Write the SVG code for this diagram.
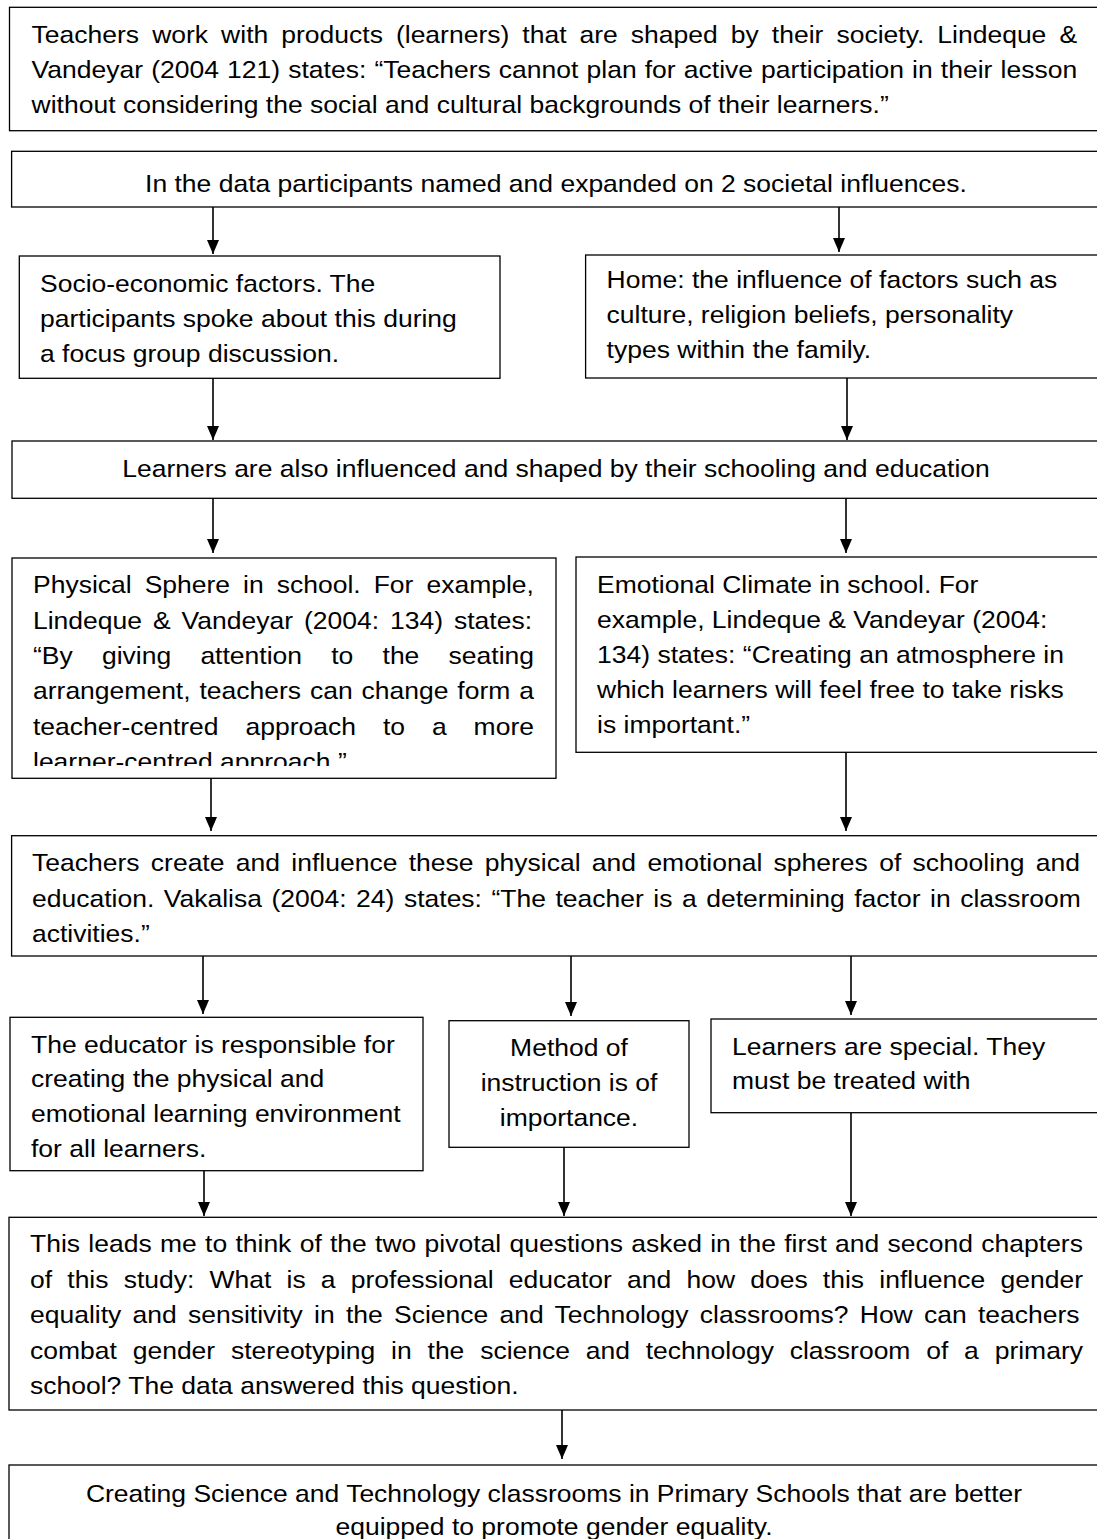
<svg xmlns="http://www.w3.org/2000/svg" width="1097" height="1539" viewBox="0 0 1097 1539">
<style>
.box{fill:#fff;stroke:#000;stroke-width:1.3}
.t{font-family:"Liberation Sans",Arial,sans-serif;font-size:24.4px;fill:#000}
.c{text-anchor:middle}
.conn line{stroke:#000;stroke-width:1.6;marker-end:url(#ah)}
</style>
<defs>
<marker id="ah" markerUnits="userSpaceOnUse" markerWidth="14" markerHeight="12" refX="14" refY="6" orient="auto">
<path d="M0,0 L14,6 L0,12 z" fill="#000"/>
</marker>
<clipPath id="physClip"><rect x="12" y="558" width="544" height="208"/></clipPath>
</defs>
<rect width="1097" height="1539" fill="#fff"/>

<g id="connectors" class="conn">
<line x1="213" y1="207" x2="213" y2="254"/>
<line x1="839" y1="207" x2="839" y2="252"/>
<line x1="213" y1="378" x2="213" y2="440"/>
<line x1="847" y1="378" x2="847" y2="440"/>
<line x1="213" y1="498" x2="213" y2="553"/>
<line x1="846" y1="498" x2="846" y2="553"/>
<line x1="211" y1="778" x2="211" y2="831"/>
<line x1="846" y1="752" x2="846" y2="831"/>
<line x1="203" y1="956" x2="203" y2="1014"/>
<line x1="571" y1="956" x2="571" y2="1016"/>
<line x1="851" y1="956" x2="851" y2="1015"/>
<line x1="204" y1="1171" x2="204" y2="1216"/>
<line x1="564" y1="1147" x2="564" y2="1216"/>
<line x1="851" y1="1113" x2="851" y2="1216"/>
<line x1="562" y1="1410" x2="562" y2="1459"/>
</g>

<g id="n1">
<rect class="box" x="9.5" y="7.3" width="1100.5" height="123.4"/>
<g transform="translate(31.6 0) scale(1.086 1)" class="t">
<text x="0" y="42.7" style="word-spacing:5.22px">Teachers work with products (learners) that are shaped by their society. Lindeque &amp;</text>
<text x="0" y="78.3" style="word-spacing:0.70px">Vandeyar (2004 121) states: “Teachers cannot plan for active participation in their lesson</text>
<text x="0" y="113.3">without considering the social and cultural backgrounds of their learners.”</text>
</g>
</g>

<g id="n2">
<rect class="box" x="11.6" y="151.3" width="1098" height="55.7"/>
<g transform="translate(556 0) scale(1.086 1)" class="t c">
<text x="0" y="192.3">In the data participants named and expanded on 2 societal influences.</text>
</g>
</g>

<g id="n3">
<rect class="box" x="19.3" y="256" width="480.7" height="122.3"/>
<g transform="translate(40 0) scale(1.086 1)" class="t">
<text x="0" y="292.5">Socio-economic factors. The</text>
<text x="0" y="327.5">participants spoke about this during</text>
<text x="0" y="362.5">a focus group discussion.</text>
</g>
</g>

<g id="n4">
<rect class="box" x="585.6" y="255" width="524.4" height="123"/>
<g transform="translate(606.6 0) scale(1.086 1)" class="t">
<text x="0" y="288.5">Home: the influence of factors such as</text>
<text x="0" y="323.5">culture, religion beliefs, personality</text>
<text x="0" y="358.5">types within the family.</text>
</g>
</g>

<g id="n5">
<rect class="box" x="12" y="441" width="1098" height="57.3"/>
<g transform="translate(556 0) scale(1.086 1)" class="t c">
<text x="0" y="477.3">Learners are also influenced and shaped by their schooling and education</text>
</g>
</g>

<g id="n6">
<rect class="box" x="12" y="558" width="544" height="220.3"/>
<g clip-path="url(#physClip)">
<g transform="translate(33 0) scale(1.086 1)" class="t">
<text x="0" y="593.3" style="word-spacing:5.19px">Physical Sphere in school. For example,</text>
<text x="0" y="628.7" style="word-spacing:3.28px">Lindeque &amp; Vandeyar (2004: 134) states:</text>
<text x="0" y="664" style="word-spacing:20.11px">“By giving attention to the seating</text>
<text x="0" y="699.3" style="word-spacing:1.38px">arrangement, teachers can change form a</text>
<text x="0" y="734.7" style="word-spacing:18.02px">teacher-centred approach to a more</text>
<text x="0" y="770">learner-centred approach.”</text>
</g>
</g>
</g>

<g id="n7">
<rect class="box" x="576" y="557" width="534" height="195.3"/>
<g transform="translate(597 0) scale(1.086 1)" class="t">
<text x="0" y="593">Emotional Climate in school. For</text>
<text x="0" y="628">example, Lindeque &amp; Vandeyar (2004:</text>
<text x="0" y="663">134) states: “Creating an atmosphere in</text>
<text x="0" y="698">which learners will feel free to take risks</text>
<text x="0" y="733">is important.”</text>
</g>
</g>

<g id="n8">
<rect class="box" x="11.6" y="835.7" width="1098.4" height="120.3"/>
<g transform="translate(32 0) scale(1.086 1)" class="t">
<text x="0" y="871.5" style="word-spacing:3.64px">Teachers create and influence these physical and emotional spheres of schooling and</text>
<text x="0" y="906.7" style="word-spacing:1.98px">education. Vakalisa (2004: 24) states: “The teacher is a determining factor in classroom</text>
<text x="0" y="941.8">activities.”</text>
</g>
</g>

<g id="n9">
<rect class="box" x="10" y="1017.3" width="413" height="153.4"/>
<g transform="translate(31 0) scale(1.086 1)" class="t">
<text x="0" y="1052.7">The educator is responsible for</text>
<text x="0" y="1087.3">creating the physical and</text>
<text x="0" y="1121.7">emotional learning environment</text>
<text x="0" y="1156.7">for all learners.</text>
</g>
</g>

<g id="n10">
<rect class="box" x="449" y="1020.7" width="240" height="126.6"/>
<g transform="translate(569 0) scale(1.086 1)" class="t c">
<text x="0" y="1056">Method of</text>
<text x="0" y="1091">instruction is of</text>
<text x="0" y="1126">importance.</text>
</g>
</g>

<g id="n11">
<rect class="box" x="711" y="1019" width="399" height="93.7"/>
<g transform="translate(732 0) scale(1.086 1)" class="t">
<text x="0" y="1055">Learners are special. They</text>
<text x="0" y="1089.3">must be treated with</text>
</g>
</g>

<g id="n12">
<rect class="box" x="9" y="1217.3" width="1101" height="192.7"/>
<g transform="translate(30 0) scale(1.086 1)" class="t">
<text x="0" y="1251.7" style="word-spacing:0.84px">This leads me to think of the two pivotal questions asked in the first and second chapters</text>
<text x="0" y="1287.7" style="word-spacing:7.19px">of this study: What is a professional educator and how does this influence gender</text>
<text x="0" y="1323.3" style="word-spacing:3.57px">equality and sensitivity in the Science and Technology classrooms? How can teachers</text>
<text x="0" y="1359" style="word-spacing:7.76px">combat gender stereotyping in the science and technology classroom of a primary</text>
<text x="0" y="1394.3">school? The data answered this question.</text>
</g>
</g>

<g id="n13">
<rect class="box" x="9" y="1465" width="1101" height="100"/>
<g transform="translate(554 0) scale(1.086 1)" class="t c">
<text x="0" y="1502">Creating Science and Technology classrooms in Primary Schools that are better</text>
<text x="0" y="1535">equipped to promote gender equality.</text>
</g>
</g>
</svg>
